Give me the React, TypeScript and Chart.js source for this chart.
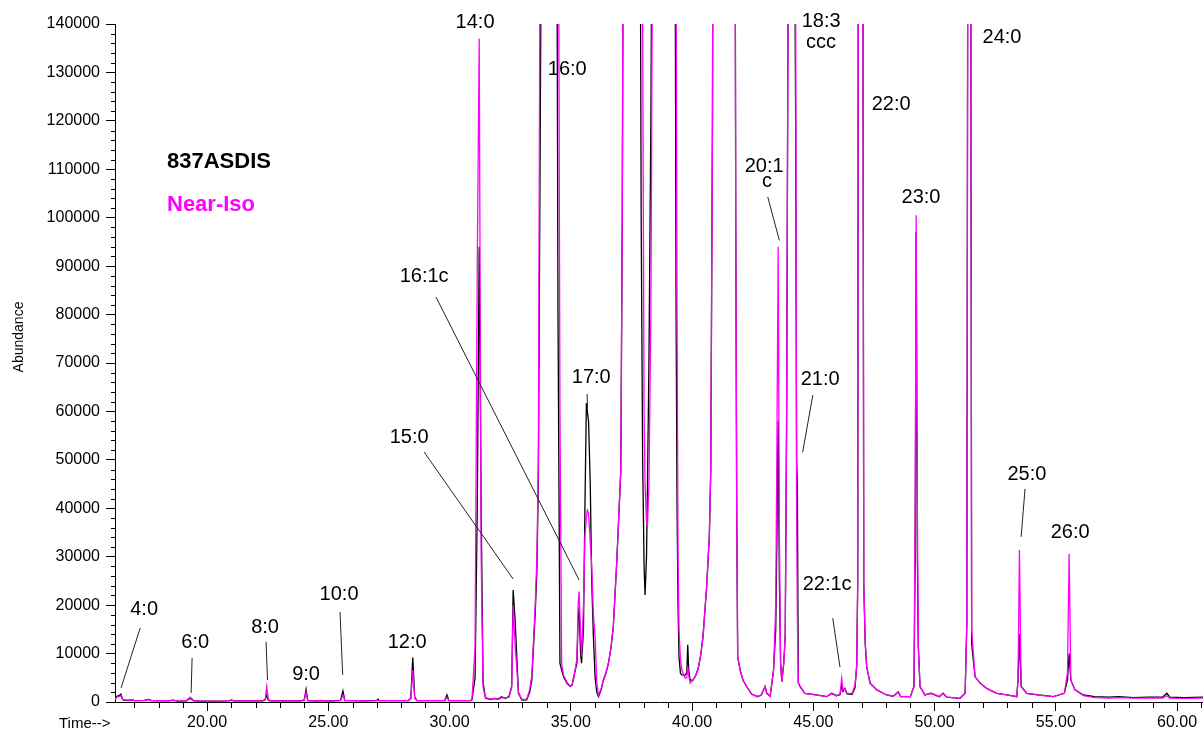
import React, { useEffect, useRef } from "react";
import { Chart, registerables } from "chart.js";

Chart.register(...registerables);

// Retention time (min)
const timeMin = [
  16.20, 16.28, 16.36, 16.44, 16.52, 16.70, 16.90, 17.00, 17.40, 17.60,
  17.70, 18.40, 18.60, 18.80, 19.15, 19.30, 19.45, 19.80, 20.90, 21.00,
  21.10, 22.30, 22.40, 22.46, 22.52, 22.60, 23.80, 24.00, 24.08, 24.15,
  24.50, 24.70, 25.00, 25.50, 25.60, 25.68, 26.50, 27.00, 27.05, 27.10,
  28.30, 28.40, 28.48, 28.56, 28.65, 29.80, 29.89, 29.97, 30.85, 30.92,
  31.05, 31.14, 31.22, 31.30, 31.38, 31.48, 31.70, 31.85, 32.00, 32.15,
  32.30, 32.45, 32.56, 32.62, 32.70, 32.84, 32.98, 33.18, 33.30, 33.39,
  33.53, 33.60, 33.66, 33.73, 33.78, 34.10, 34.42, 34.47, 34.55, 34.62,
  34.70, 34.85, 34.97, 35.05, 35.11, 35.25, 35.30, 35.34, 35.40, 35.44,
  35.52, 35.58, 35.64, 35.68, 35.73, 35.80, 35.86, 35.93, 36.00, 36.07,
  36.14, 36.25, 36.34, 36.45, 36.55, 36.65, 36.75, 36.89, 37.00, 37.06,
  37.12, 37.18, 37.50, 37.84, 37.90, 37.96, 38.02, 38.06, 38.12, 38.16,
  38.22, 38.30, 38.36, 38.42, 38.90, 39.28, 39.34, 39.38, 39.42, 39.46,
  39.52, 39.58, 39.70, 39.78, 39.82, 39.86, 39.92, 40.04, 40.15, 40.25,
  40.35, 40.45, 40.60, 40.71, 40.77, 40.84, 40.90, 41.30, 41.74, 41.80,
  41.84, 41.88, 41.98, 42.10, 42.25, 42.45, 42.70, 42.85, 43.01, 43.08,
  43.22, 43.36, 43.45, 43.50, 43.55, 43.60, 43.65, 43.70, 43.78, 43.84,
  43.90, 43.96, 44.10, 44.24, 44.27, 44.31, 44.34, 44.38, 44.45, 44.65,
  45.14, 45.55, 45.75, 45.95, 46.10, 46.17, 46.22, 46.30, 46.38, 46.60,
  46.72, 46.79, 46.83, 46.88, 47.00, 47.08, 47.14, 47.20, 47.34, 47.62,
  48.02, 48.30, 48.50, 48.60, 49.00, 49.15, 49.20, 49.24, 49.29, 49.33,
  49.40, 49.60, 49.85, 50.20, 50.35, 50.50, 51.05, 51.26, 51.33, 51.38,
  51.48, 51.53, 51.67, 51.88, 52.15, 52.56, 52.98, 53.39, 53.44, 53.50,
  53.57, 53.80, 54.30, 54.90, 55.35, 55.48, 55.55, 55.62, 55.79, 56.14,
  56.60, 57.20, 57.60, 58.20, 58.80, 59.40, 59.58, 59.70, 60.30, 61.10,
];

// 837ASDIS (black trace) abundance
const abundance837 = [
  500, 1200, 1300, 1650, 500, 300, 500, 300, 350, 550,
  300, 250, 400, 200, 250, 800, 250, 200, 250, 400,
  250, 250, 500, 1500, 400, 250, 250, 400, 2600, 300,
  200, 300, 200, 350, 2300, 300, 250, 350, 600, 300,
  300, 800, 9200, 1000, 300, 300, 1450, 300, 300, 400,
  5000, 40000, 94000, 40000, 4000, 800, 500, 760, 600, 1100,
  700, 1200, 3200, 23100, 16900, 1800, 400, 450, 2000, 4500,
  18400, 27300, 45800, 111000, 160000, 800000, 170000, 80000, 8000, 6600,
  5200, 3800, 3200, 3500, 5000, 8000, 17000, 19700, 10000, 8000,
  15000, 40000, 61700, 60000, 58000, 45000, 25000, 13500, 5000, 2000,
  1100, 2500, 4500, 6000, 8000, 11000, 15500, 28600, 41000, 47900,
  100000, 200000, 900000, 200000, 100000, 50000, 28000, 22100, 30000, 45000,
  70000, 120000, 180000, 250000, 900000, 200000, 80000, 40000, 20000, 9400,
  5900, 5600, 5500, 6000, 11800, 6600, 4500, 4500, 5500, 6900,
  9500, 13500, 23800, 34100, 47900, 120000, 250000, 900000, 250000, 100000,
  40000, 9400, 6600, 4500, 3200, 1650, 1100, 1450, 3200, 1800,
  1200, 6600, 15000, 35000, 58000, 25000, 8000, 4200, 8000, 13500,
  60000, 150000, 600000, 150000, 120000, 50000, 45000, 4000, 3200, 1800,
  1450, 1100, 1800, 1300, 1500, 3500, 2200, 2800, 1700, 1600,
  3000, 7600, 24500, 300000, 300000, 24500, 12100, 7300, 3900, 2500,
  1450, 1200, 2100, 1100, 1100, 3200, 30000, 97000, 30000, 11400,
  3200, 1450, 1800, 1100, 1800, 1000, 760, 1800, 16200, 200000,
  200000, 12000, 5200, 3900, 2800, 1800, 1450, 1100, 4500, 14000,
  3200, 1800, 1450, 1100, 1800, 4500, 10000, 4500, 2500, 1450,
  1100, 1000, 1100, 900, 1000, 1000, 1800, 1000, 900, 1000,
];

// Near-Iso (magenta trace) abundance
const abundanceNearIso = [
  600, 1000, 1100, 1300, 500, 400, 450, 300, 300, 500,
  300, 300, 350, 200, 300, 1000, 300, 200, 250, 450,
  250, 250, 700, 3200, 600, 250, 250, 300, 2000, 300,
  250, 350, 200, 300, 1400, 350, 250, 300, 350, 300,
  300, 700, 6600, 800, 300, 300, 1000, 300, 300, 500,
  11400, 90000, 137000, 30000, 3000, 900, 600, 700, 500, 900,
  800, 1000, 3000, 20000, 12000, 2000, 500, 600, 2500, 5500,
  20000, 30000, 50000, 160000, 300000, 800000, 300000, 200000, 60000, 8000,
  5500, 4000, 3300, 3600, 4500, 9000, 20000, 22800, 14000, 9400,
  20000, 34100, 38000, 39600, 39000, 33000, 28000, 18000, 13500, 4000,
  1400, 2800, 4500, 6200, 8000, 11000, 15500, 28600, 41000, 47900,
  100000, 200000, 900000, 300000, 200000, 140000, 60000, 45000, 37000, 36500,
  45000, 80000, 150000, 250000, 900000, 200000, 150000, 80000, 30000, 15000,
  8700, 6600, 5000, 5000, 7300, 5500, 3900, 4500, 5500, 6900,
  9500, 13500, 23800, 34100, 47900, 120000, 250000, 900000, 250000, 100000,
  40000, 9400, 6600, 4500, 3200, 1650, 1100, 1450, 3200, 1800,
  1200, 6600, 20000, 55000, 94000, 35000, 8000, 4200, 8000, 13500,
  60000, 150000, 600000, 150000, 150000, 40000, 18300, 3900, 3200, 1800,
  1400, 1100, 1700, 1300, 1600, 4900, 2500, 2800, 1800, 1800,
  3500, 7600, 24500, 300000, 300000, 24500, 12100, 7300, 3900, 2500,
  1450, 1200, 2000, 1100, 1100, 3200, 40000, 100500, 40000, 11400,
  3200, 1450, 1800, 1100, 1800, 1000, 760, 1800, 16200, 200000,
  200000, 14900, 5200, 3900, 2800, 1800, 1450, 1100, 4500, 31400,
  3200, 1800, 1400, 1100, 1800, 6000, 30600, 4500, 2500, 1300,
  900, 800, 900, 800, 800, 800, 1300, 800, 750, 800,
];

const xTickValues = [20, 25, 30, 35, 40, 45, 50, 55, 60];
const xTickLabels = ["20.00", "25.00", "30.00", "35.00", "40.00", "45.00", "50.00", "55.00", "60.00"];
const yTickValues = [0, 10000, 20000, 30000, 40000, 50000, 60000, 70000, 80000, 90000, 100000, 110000, 120000, 130000, 140000];
const yTickLabels = ["0", "10000", "20000", "30000", "40000", "50000", "60000", "70000", "80000", "90000", "100000", "110000", "120000", "130000", "140000"];
const xMinorStep = 1;
const yMinorStep = 2000;

const seriesNames = ["837ASDIS", "Near-Iso"];
const yAxisTitle = "Abundance";
const xAxisTitle = "Time-->";

// Peak labels, anchored in data units (time, abundance); optional leader line
const peakAnnotations: { text: string; t: number; a: number; leader?: number[] }[] = [
  { text: "4:0", t: 17.40, a: 18000, leader: [17.24, 15300, 16.45, 2900] },
  { text: "6:0", t: 19.51, a: 11150, leader: [19.38, 9100, 19.34, 1860] },
  { text: "8:0", t: 22.39, a: 14250, leader: [22.43, 12400, 22.49, 4540] },
  { text: "9:0", t: 24.08, a: 4540 },
  { text: "10:0", t: 25.44, a: 21060, leader: [25.48, 18600, 25.59, 5600] },
  { text: "12:0", t: 28.25, a: 11150 },
  { text: "14:0", t: 31.05, a: 139200 },
  { text: "15:0", t: 28.33, a: 53500, leader: [28.95, 51600, 32.62, 25400] },
  { text: "16:0", t: 34.85, a: 129500 },
  { text: "16:1c", t: 28.95, a: 86700, leader: [29.44, 83600, 35.34, 25200] },
  { text: "17:0", t: 35.84, a: 65900, leader: [35.67, 63600, 35.69, 60300] },
  { text: "20:1", t: 42.97, a: 109400 },
  { text: "c", t: 43.09, a: 106300, leader: [43.12, 104300, 43.60, 95300] },
  { text: "18:3", t: 45.32, a: 139400 },
  { text: "ccc", t: 45.32, a: 135000 },
  { text: "21:0", t: 45.28, a: 65500, leader: [44.98, 63400, 44.56, 51600] },
  { text: "22:1c", t: 45.57, a: 23100, leader: [45.80, 17300, 46.10, 7200] },
  { text: "22:0", t: 48.21, a: 122200 },
  { text: "23:0", t: 49.44, a: 103000 },
  { text: "24:0", t: 52.78, a: 136100 },
  { text: "25:0", t: 53.81, a: 45800, leader: [53.73, 44000, 53.57, 34100] },
  { text: "26:0", t: 55.59, a: 33900 },
];

const FONT = "'Liberation Sans', Arial, sans-serif";

const overlayPlugin = {
  id: "chromOverlay",
  afterDatasetsDraw(chart: any) {
    const ctx = chart.ctx as CanvasRenderingContext2D;
    const xs = chart.scales.x;
    const ys = chart.scales.y;
    const area = chart.chartArea;
    ctx.save();

    // minor ticks
    ctx.strokeStyle = "#000";
    ctx.lineWidth = 1;
    ctx.beginPath();
    for (let v = Math.ceil(xs.min); v <= xs.max; v += xMinorStep) {
      if (xTickValues.indexOf(v) >= 0) continue;
      const px = Math.round(xs.getPixelForValue(v)) + 0.5;
      ctx.moveTo(px, area.bottom);
      ctx.lineTo(px, area.bottom + 6);
    }
    for (let v = 0; v <= ys.max; v += yMinorStep) {
      if (yTickValues.indexOf(v) >= 0) continue;
      const py = Math.round(ys.getPixelForValue(v)) + 0.5;
      ctx.moveTo(area.left - 4, py);
      ctx.lineTo(area.left + 1, py);
    }
    ctx.stroke();

    // axis titles
    ctx.fillStyle = "#000";
    ctx.font = `14px ${FONT}`;
    ctx.save();
    ctx.translate(23, 337);
    ctx.rotate(-Math.PI / 2);
    ctx.textAlign = "center";
    ctx.textBaseline = "alphabetic";
    ctx.fillText(yAxisTitle, 0, 0);
    ctx.restore();

    ctx.font = `15px ${FONT}`;
    ctx.textAlign = "left";
    ctx.textBaseline = "alphabetic";
    ctx.fillText(xAxisTitle, 59, 728);

    // in-plot legend
    ctx.font = `bold 22px ${FONT}`;
    ctx.fillStyle = "#000000";
    ctx.fillText(seriesNames[0], 167, 168);
    ctx.fillStyle = "#FF00FF";
    ctx.fillText(seriesNames[1], 167, 211);

    // peak annotations
    ctx.fillStyle = "#000";
    ctx.strokeStyle = "#222";
    ctx.lineWidth = 1;
    ctx.font = `20px ${FONT}`;
    ctx.textAlign = "center";
    for (const p of peakAnnotations) {
      ctx.fillText(p.text, xs.getPixelForValue(p.t), ys.getPixelForValue(p.a));
      if (p.leader) {
        ctx.beginPath();
        ctx.moveTo(xs.getPixelForValue(p.leader[0]), ys.getPixelForValue(p.leader[1]));
        ctx.lineTo(xs.getPixelForValue(p.leader[2]), ys.getPixelForValue(p.leader[3]));
        ctx.stroke();
      }
    }
    ctx.restore();
  },
};

export default function App() {
  const canvasRef = useRef<HTMLCanvasElement | null>(null);

  useEffect(() => {
    if (!canvasRef.current) return;
    const blackData = timeMin.map((t, i) => ({ x: t, y: abundance837[i] }));
    const magentaData = timeMin.map((t, i) => ({ x: t, y: abundanceNearIso[i] }));

    const chart = new Chart(canvasRef.current, {
      type: "line",
      data: {
        datasets: [
          {
            label: seriesNames[1],
            data: magentaData,
            borderColor: "#FF00FF",
            borderWidth: 1.3,
            pointRadius: 0,
            tension: 0,
            fill: false,
            order: 0,
          },
          {
            label: seriesNames[0],
            data: blackData,
            borderColor: "#000000",
            borderWidth: 1.3,
            pointRadius: 0,
            tension: 0,
            fill: false,
            order: 1,
          },
        ],
      },
      options: {
        animation: false,
        responsive: false,
        maintainAspectRatio: false,
        devicePixelRatio: 1,
        layout: { padding: { top: 24, left: 0, right: 0, bottom: 0 } },
        plugins: { legend: { display: false }, tooltip: { enabled: false } },
        scales: {
          x: {
            type: "linear",
            min: 16.2,
            max: 61.07,
            afterBuildTicks: (s: any) => {
              s.ticks = xTickValues.map((v) => ({ value: v }));
            },
            afterFit: (s: any) => {
              s.height = 29;
            },
            ticks: {
              autoSkip: false,
              maxRotation: 0,
              padding: 2,
              color: "#000",
              font: { family: FONT, size: 16 },
              callback: (_v: any, i: number) => xTickLabels[i],
            },
            grid: { drawOnChartArea: false, drawTicks: true, tickLength: 9, color: "#000", tickColor: "#000" },
            border: { display: true, color: "#000", width: 1 },
          },
          y: {
            type: "linear",
            min: 0,
            max: 140000,
            afterBuildTicks: (s: any) => {
              s.ticks = yTickValues.map((v) => ({ value: v }));
            },
            afterFit: (s: any) => {
              s.width = 115;
            },
            ticks: {
              autoSkip: false,
              padding: 6,
              color: "#000",
              font: { family: FONT, size: 16 },
              callback: (_v: any, i: number) => yTickLabels[i],
            },
            grid: { drawOnChartArea: false, drawTicks: true, tickLength: 9, color: "#000", tickColor: "#000" },
            border: { display: true, color: "#000", width: 1 },
          },
        },
      },
      plugins: [overlayPlugin],
    } as any);

    return () => chart.destroy();
  }, []);

  return (
    <div style={{ position: "fixed", left: 0, top: 0, width: 1203, height: 731, background: "#fff" }}>
      <canvas ref={canvasRef} width={1203} height={731} style={{ display: "block" }} />
    </div>
  );
}
